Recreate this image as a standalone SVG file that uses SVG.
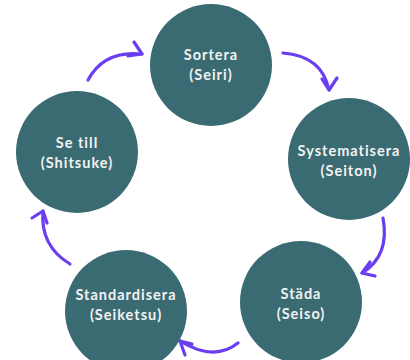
<svg xmlns="http://www.w3.org/2000/svg" width="410" height="360" viewBox="0 0 410 360">
  <style>
    .node circle { fill: #3a6b73; }
    .node text { fill: #f2f2f2; font-family: Lato, "Open Sans", sans-serif; font-weight: 700; font-size: 14.5px; letter-spacing: 1px; text-anchor: middle; }
    .arrow { fill: none; stroke: #6a3df2; stroke-width: 3.2; stroke-linecap: round; stroke-linejoin: round; }
  </style>
  <rect width="410" height="360" fill="#ffffff"/>

  <g id="connectors">
    <!-- Se till -> Sortera -->
    <path class="arrow" d="M88,80 Q104,50 142,54"/>
    <path class="arrow" d="M134,42 L142,54 L128,56"/>
    <!-- Sortera -> Systematisera -->
    <path class="arrow" d="M283,53 Q322,56 329,90"/>
    <path class="arrow" d="M322,79 L329,90 L337,78"/>
    <!-- Systematisera -> Städa -->
    <path class="arrow" d="M383,218 Q390,256 362,273"/>
    <path class="arrow" d="M370,262 L362,273 L375,276"/>
    <!-- Städa -> Standardisera -->
    <path class="arrow" d="M238,343 Q214,362 180,341"/>
    <path class="arrow" d="M192,344 L180,341 L185,355"/>
    <!-- Standardisera -> Se till -->
    <path class="arrow" d="M70,264 Q40,246 43,211"/>
    <path class="arrow" d="M32,218 L43,211 L47,223"/>
  </g>

  <g id="sortera" class="node">
    <circle cx="211" cy="65" r="61"/>
    <text x="211" y="60">Sortera</text>
    <text x="211" y="80">(Seiri)</text>
  </g>
  <g id="systematisera" class="node">
    <circle cx="349" cy="159" r="61"/>
    <text x="349" y="156">Systematisera</text>
    <text x="349" y="176">(Seiton)</text>
  </g>
  <g id="stada" class="node">
    <circle cx="301" cy="302" r="61"/>
    <text x="301" y="299">Städa</text>
    <text x="301" y="319">(Seiso)</text>
  </g>
  <g id="standardisera" class="node">
    <circle cx="126" cy="311" r="61"/>
    <text x="126" y="300">Standardisera</text>
    <text x="126" y="320">(Seiketsu)</text>
  </g>
  <g id="se-till" class="node">
    <circle cx="77" cy="152" r="61"/>
    <text x="77" y="148">Se till</text>
    <text x="77" y="168">(Shitsuke)</text>
  </g>
</svg>
